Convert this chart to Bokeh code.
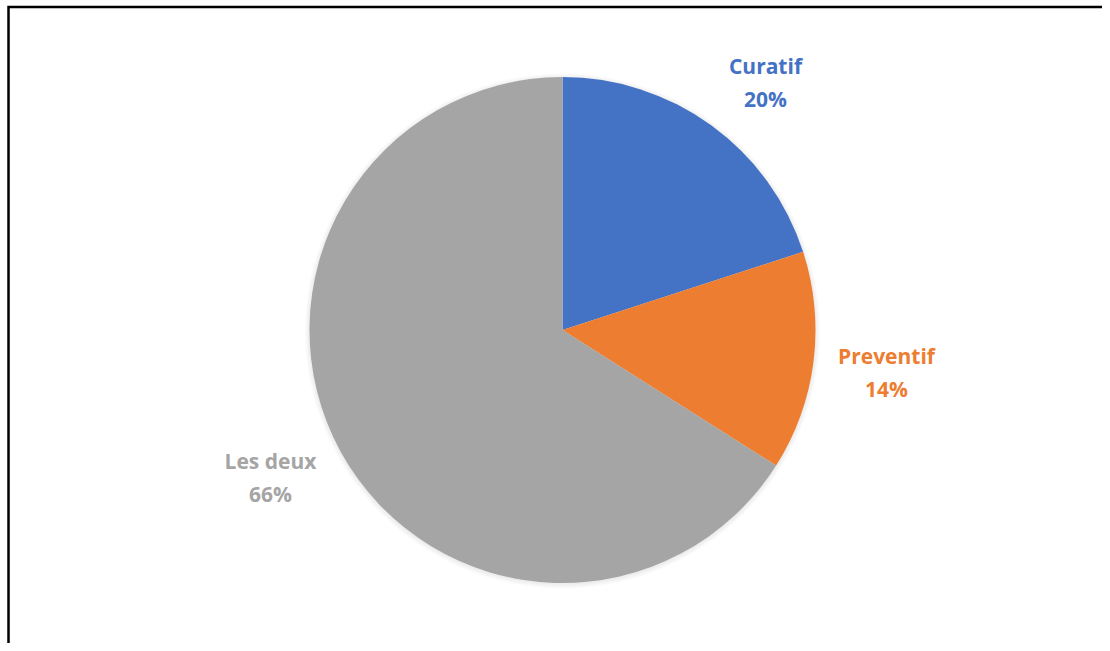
import math
from bokeh.plotting import figure
from bokeh.models import Range1d
from bokeh.core.properties import value
from bokeh.embed import file_html
from bokeh.resources import INLINE

# ---- data ----
categories = ["Curatif", "Preventif", "Les deux"]
shares = [20, 14, 66]
colors = ["#4472C4", "#ED7D31", "#A5A5A5"]

# ---- layout (screen pixels, top-left origin) ----
W, H = 1102, 643
CX, CY = 562, H - 329.5   # pie centre
R = 253
LABEL_POS = [(765, 81.5), (886, 371.5), (270, 476.5)]
LINE_GAP = 16.5
FONT = value("Open Sans")
FSIZE = "21px"
BORDER_X, BORDER_Y = 8, H - 6.5

p = figure(width=W, height=H, output_backend="svg", toolbar_location=None,
           x_range=Range1d(0, W), y_range=Range1d(0, H),
           x_axis_location=None, y_axis_location=None,
           min_border=0, outline_line_color=None)
p.grid.visible = False
p.background_fill_color = "white"
p.border_fill_color = "white"

# soft shadow
for i in range(1, 7):
    p.circle(x=[CX], y=[CY - 1], radius=R + i * 0.8, fill_color="black",
             fill_alpha=0.012, line_color=None)

total = sum(shares)
cum = 0.0
starts, ends = [], []
for s in shares:
    a0 = math.pi / 2 - 2 * math.pi * cum / total
    cum += s
    a1 = math.pi / 2 - 2 * math.pi * cum / total
    starts.append(a1)
    ends.append(a0)

p.wedge(x=[CX] * len(shares), y=[CY] * len(shares), radius=R,
        start_angle=starts, end_angle=ends, direction="anticlock",
        fill_color=colors, line_color=None)

for cat, s, col, (lx, ly) in zip(categories, shares, colors, LABEL_POS):
    yy = H - ly
    p.text(x=[lx], y=[yy + LINE_GAP], text=[cat], text_color=col,
           text_font=FONT, text_font_size=FSIZE, text_font_style="bold",
           text_align="center", text_baseline="middle")
    p.text(x=[lx], y=[yy - LINE_GAP], text=[f"{s}%"], text_color=col,
           text_font=FONT, text_font_size=FSIZE, text_font_style="bold",
           text_align="center", text_baseline="middle")

# chart border (top and left visible in the window)
p.line(x=[BORDER_X, BORDER_X, W], y=[0, BORDER_Y, BORDER_Y],
       line_color="black", line_width=2.5, line_join="miter")

open("out.html", "w").write(file_html(p, INLINE))
